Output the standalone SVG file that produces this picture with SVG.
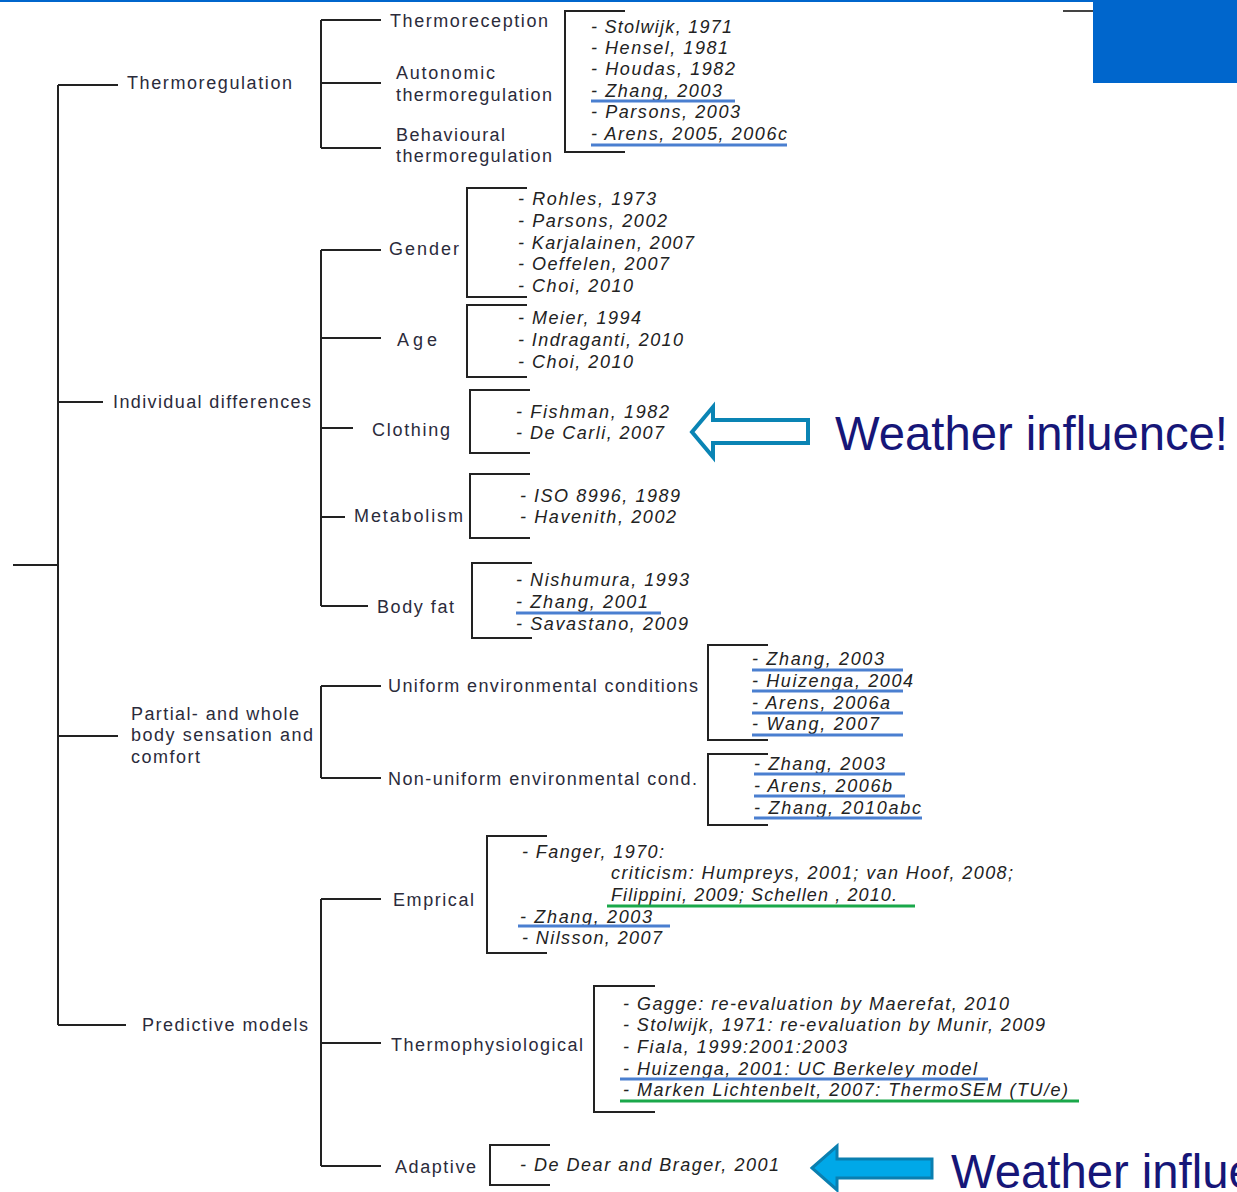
<svg xmlns="http://www.w3.org/2000/svg" width="1237" height="1192" viewBox="0 0 1237 1192">
<style>
.ln{stroke:#222;stroke-width:2;fill:none}
.lb{font-family:"Liberation Sans",Arial,sans-serif;font-size:18px;fill:#2b2b3b}
.rf{font-family:"Liberation Sans",Arial,sans-serif;font-size:18px;font-style:italic;fill:#222}
.ub{stroke:#4a7fd0;stroke-width:3}
.ug{stroke:#1aa84a;stroke-width:3}
.wt{font-family:"Liberation Sans",Arial,sans-serif;font-size:48px;fill:#161678}
</style>
<rect x="0" y="0" width="1237" height="1192" fill="#fff"/>
<rect x="0" y="0" width="1237" height="2" fill="#0066cc"/>
<rect x="1093" y="0" width="144" height="83" fill="#0066cc"/>
<line x1="1063" y1="11" x2="1093" y2="11" stroke="#444" stroke-width="2"/>

<g id="connectors">
<path class="ln" d="M13,565H58M58,85V1025M58,85H118M58,402H103M58,736H118M58,1025H126"/>
<path class="ln" d="M321,20V148M321,20H381M321,83H381M321,148H381"/>
<path class="ln" d="M321,250V606M321,250H381M321,338H381M321,428H353M321,517H345M321,606H368"/>
<path class="ln" d="M321,686V778M321,686H381M321,778H381"/>
<path class="ln" d="M321,899V1166M321,899H381M321,1043H381M321,1166H381"/>
<path class="ln" d="M625,11H565V152H625"/>
<path class="ln" d="M527,188H467V297H527"/>
<path class="ln" d="M527,305H467V377H527"/>
<path class="ln" d="M530,390H470V453H530"/>
<path class="ln" d="M530,474H470V538H530"/>
<path class="ln" d="M532,563H472V638H532"/>
<path class="ln" d="M768,645H708V740H768"/>
<path class="ln" d="M768,754H708V825H768"/>
<path class="ln" d="M547,836H487V953H547"/>
<path class="ln" d="M655,986H594V1112H655"/>
<path class="ln" d="M550,1145H490V1185H550"/>
</g>

<g id="thermoregulation"><text class="lb" x="127" y="89" textLength="165" lengthAdjust="spacing">Thermoregulation</text></g>
<g id="thermoreception"><text class="lb" x="390" y="27" textLength="158" lengthAdjust="spacing">Thermoreception</text></g>
<g id="autonomic"><text class="lb" x="396" y="79" textLength="99" lengthAdjust="spacing">Autonomic</text><text class="lb" x="396" y="101" textLength="156" lengthAdjust="spacing">thermoregulation</text></g>
<g id="behavioural"><text class="lb" x="396" y="141" textLength="109" lengthAdjust="spacing">Behavioural</text><text class="lb" x="396" y="162" textLength="156" lengthAdjust="spacing">thermoregulation</text></g>
<g id="refs-thermo">
<text class="rf" x="591" y="33" textLength="141" lengthAdjust="spacing">- Stolwijk, 1971</text>
<text class="rf" x="591" y="54" textLength="137" lengthAdjust="spacing">- Hensel, 1981</text>
<text class="rf" x="591" y="75" textLength="144" lengthAdjust="spacing">- Houdas, 1982</text>
<text class="rf" x="591" y="97" textLength="131" lengthAdjust="spacing">- Zhang, 2003</text>
<line class="ub" x1="591" y1="101" x2="735" y2="101"/>
<text class="rf" x="591" y="118" textLength="149" lengthAdjust="spacing">- Parsons, 2003</text>
<text class="rf" x="591" y="140" textLength="196" lengthAdjust="spacing">- Arens, 2005, 2006c</text>
<line class="ub" x1="591" y1="145" x2="787" y2="145"/>
</g>

<g id="individual-differences"><text class="lb" x="113" y="408" textLength="198" lengthAdjust="spacing">Individual differences</text></g>
<g id="gender"><text class="lb" x="389" y="255" textLength="70" lengthAdjust="spacing">Gender</text></g>
<g id="age"><text class="lb" x="397" y="346" textLength="40" lengthAdjust="spacing">Age</text></g>
<g id="clothing"><text class="lb" x="372" y="436" textLength="78" lengthAdjust="spacing">Clothing</text></g>
<g id="metabolism"><text class="lb" x="354" y="522" textLength="109" lengthAdjust="spacing">Metabolism</text></g>
<g id="body-fat"><text class="lb" x="377" y="613" textLength="77" lengthAdjust="spacing">Body fat</text></g>
<g id="refs-gender">
<text class="rf" x="518" y="205" textLength="138" lengthAdjust="spacing">- Rohles, 1973</text>
<text class="rf" x="518" y="227" textLength="149" lengthAdjust="spacing">- Parsons, 2002</text>
<text class="rf" x="518" y="249" textLength="176" lengthAdjust="spacing">- Karjalainen, 2007</text>
<text class="rf" x="518" y="270" textLength="151" lengthAdjust="spacing">- Oeffelen, 2007</text>
<text class="rf" x="518" y="292" textLength="115" lengthAdjust="spacing">- Choi, 2010</text>
</g>
<g id="refs-age">
<text class="rf" x="518" y="324" textLength="123" lengthAdjust="spacing">- Meier, 1994</text>
<text class="rf" x="518" y="346" textLength="165" lengthAdjust="spacing">- Indraganti, 2010</text>
<text class="rf" x="518" y="368" textLength="115" lengthAdjust="spacing">- Choi, 2010</text>
</g>
<g id="refs-clothing">
<text class="rf" x="516" y="418" textLength="153" lengthAdjust="spacing">- Fishman, 1982</text>
<text class="rf" x="516" y="439" textLength="148" lengthAdjust="spacing">- De Carli, 2007</text>
</g>
<g id="refs-metabolism">
<text class="rf" x="520" y="502" textLength="160" lengthAdjust="spacing">- ISO 8996, 1989</text>
<text class="rf" x="520" y="523" textLength="156" lengthAdjust="spacing">- Havenith, 2002</text>
</g>
<g id="refs-bodyfat">
<text class="rf" x="516" y="586" textLength="173" lengthAdjust="spacing">- Nishumura, 1993</text>
<text class="rf" x="516" y="608" textLength="132" lengthAdjust="spacing">- Zhang, 2001</text>
<line class="ub" x1="516" y1="613" x2="661" y2="613"/>
<text class="rf" x="516" y="630" textLength="172" lengthAdjust="spacing">- Savastano, 2009</text>
</g>

<g id="partial-whole"><text class="lb" x="131" y="720" textLength="168" lengthAdjust="spacing">Partial- and whole</text><text class="lb" x="131" y="741" textLength="182" lengthAdjust="spacing">body sensation and</text><text class="lb" x="131" y="763" textLength="69" lengthAdjust="spacing">comfort</text></g>
<g id="uniform"><text class="lb" x="388" y="692" textLength="310" lengthAdjust="spacing">Uniform environmental conditions</text></g>
<g id="non-uniform"><text class="lb" x="388" y="785" textLength="309" lengthAdjust="spacing">Non-uniform environmental cond.</text></g>
<g id="refs-uniform">
<text class="rf" x="752" y="665" textLength="132" lengthAdjust="spacing">- Zhang, 2003</text>
<line class="ub" x1="752" y1="670" x2="903" y2="670"/>
<text class="rf" x="752" y="687" textLength="161" lengthAdjust="spacing">- Huizenga, 2004</text>
<line class="ub" x1="752" y1="691" x2="903" y2="691"/>
<text class="rf" x="752" y="709" textLength="138" lengthAdjust="spacing">- Arens, 2006a</text>
<line class="ub" x1="752" y1="713" x2="903" y2="713"/>
<text class="rf" x="752" y="730" textLength="127" lengthAdjust="spacing">- Wang, 2007</text>
<line class="ub" x1="752" y1="735" x2="903" y2="735"/>
</g>
<g id="refs-nonuniform">
<text class="rf" x="754" y="770" textLength="131" lengthAdjust="spacing">- Zhang, 2003</text>
<line class="ub" x1="754" y1="774" x2="905" y2="774"/>
<text class="rf" x="754" y="792" textLength="138" lengthAdjust="spacing">- Arens, 2006b</text>
<line class="ub" x1="754" y1="796" x2="905" y2="796"/>
<text class="rf" x="754" y="814" textLength="167" lengthAdjust="spacing">- Zhang, 2010abc</text>
<line class="ub" x1="754" y1="818" x2="922" y2="818"/>
</g>

<g id="predictive-models"><text class="lb" x="142" y="1031" textLength="166" lengthAdjust="spacing">Predictive models</text></g>
<g id="emprical"><text class="lb" x="393" y="906" textLength="81" lengthAdjust="spacing">Emprical</text></g>
<g id="thermophysiological"><text class="lb" x="391" y="1051" textLength="192" lengthAdjust="spacing">Thermophysiological</text></g>
<g id="adaptive"><text class="lb" x="395" y="1173" textLength="81" lengthAdjust="spacing">Adaptive</text></g>
<g id="refs-emprical">
<text class="rf" x="522" y="858" textLength="142" lengthAdjust="spacing">- Fanger, 1970:</text>
<text class="rf" x="611" y="879" textLength="402" lengthAdjust="spacing">criticism: Humpreys, 2001; van Hoof, 2008;</text>
<text class="rf" x="611" y="901" textLength="286" lengthAdjust="spacing">Filippini, 2009; Schellen , 2010.</text>
<line class="ug" x1="607" y1="906" x2="915" y2="906"/>
<text class="rf" x="520" y="923" textLength="132" lengthAdjust="spacing">- Zhang, 2003</text>
<line class="ub" x1="518" y1="926" x2="670" y2="926"/>
<text class="rf" x="522" y="944" textLength="140" lengthAdjust="spacing">- Nilsson, 2007</text>
</g>
<g id="refs-thermophysiological">
<text class="rf" x="623" y="1010" textLength="386" lengthAdjust="spacing">- Gagge: re-evaluation by Maerefat, 2010</text>
<text class="rf" x="623" y="1031" textLength="422" lengthAdjust="spacing">- Stolwijk, 1971: re-evaluation by Munir, 2009</text>
<text class="rf" x="623" y="1053" textLength="224" lengthAdjust="spacing">- Fiala, 1999:2001:2003</text>
<text class="rf" x="623" y="1075" textLength="354" lengthAdjust="spacing">- Huizenga, 2001: UC Berkeley model</text>
<line class="ub" x1="620" y1="1079" x2="988" y2="1079"/>
<text class="rf" x="623" y="1096" textLength="445" lengthAdjust="spacing">- Marken Lichtenbelt, 2007: ThermoSEM (TU/e)</text>
<line class="ug" x1="620" y1="1101" x2="1079" y2="1101"/>
</g>
<g id="refs-adaptive">
<text class="rf" x="520" y="1171" textLength="259" lengthAdjust="spacing">- De Dear and Brager, 2001</text>
</g>

<g id="weather-clothing">
<polygon points="692,432 713,407 713,420 808,420 808,443 713,443 713,457" fill="#fff" stroke="#0a84b4" stroke-width="4"/>
<text class="wt" x="835" y="450" textLength="393" lengthAdjust="spacingAndGlyphs">Weather influence!</text>
</g>
<g id="weather-adaptive">
<polygon points="812,1168 837,1146 837,1159 932,1159 932,1178 837,1178 837,1190" fill="#00a8e8" stroke="#0a7fb0" stroke-width="3"/>
<text class="wt" x="951" y="1188" textLength="393" lengthAdjust="spacingAndGlyphs">Weather influence!</text>
</g>
</svg>
